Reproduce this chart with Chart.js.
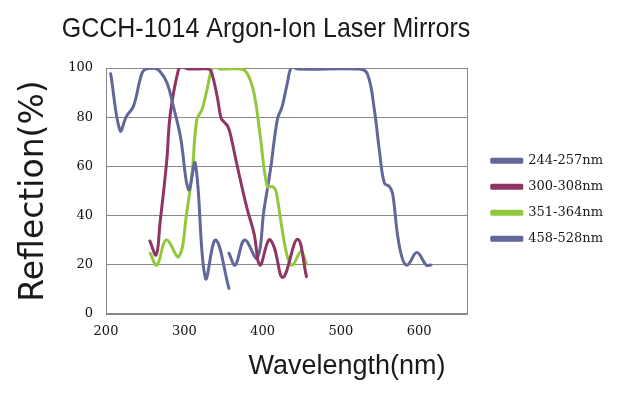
<!DOCTYPE html>
<html>
<head>
<meta charset="utf-8">
<script src="https://cdn.jsdelivr.net/npm/chart.js@4.4.0/dist/chart.umd.min.js"></script>
<style>
html,body{margin:0;padding:0;background:#ffffff;}
#wrap{width:632px;height:394px;}
</style>
</head>
<body>
<div id="wrap"><canvas id="c" width="632" height="394"></canvas></div>
<script>
// ---- data ----
const chartTitle = 'GCCH-1014 Argon-Ion Laser Mirrors';
const xTitle = 'Wavelength(nm)';
const yTitle = 'Reflection(%)';
const seriesNames = ['244-257nm', '300-308nm', '351-364nm', '458-528nm'];

const wl244 = [206, 218, 226, 235, 246, 252, 261, 269, 278, 286, 295, 305.5, 314, 327, 340, 357];
const r244  = [97.7, 74.5, 80.3, 84.4, 98, 99.7, 100, 98.6, 93.9, 84.4, 72.2, 50.5, 61.3, 14.5, 30.1, 10.4];

const wl300 = [256, 264, 269, 277.5, 282, 292.5, 297, 305, 331, 335, 342, 347, 351, 356, 360, 366, 380, 389, 396.6, 408, 414.5, 426, 444.5, 456];
const r300  = [29.7, 24, 37, 62, 81, 99.3, 100.4, 99.6, 99.6, 98, 88.4, 79.6, 78, 76, 71.5, 62.5, 43, 32.8, 19.9, 30.1, 27.4, 14.9, 30.4, 15.2];

const wl351 = [256.4, 265, 277, 293, 303, 310, 316, 322.5, 329, 336.7, 346, 372, 380, 389, 397, 406, 413, 417, 423, 431.6, 438, 449, 456];
const r351  = [24.7, 19.9, 30.1, 23.3, 41, 57.5, 79, 83, 91.2, 100.4, 99.6, 99.6, 98, 89.8, 72.2, 51.8, 51.8, 50, 38.3, 23.3, 19.9, 25.4, 20.3];

const wl458 = [357, 365, 377, 393, 401.7, 410, 418.8, 425, 431.6, 437, 444.5, 523.5, 534, 542.7, 549, 555.5, 562, 566, 572.6, 579, 585, 597, 609, 615];
const r458  = [24.7, 19.9, 30.1, 22.7, 42.3, 58.6, 79, 84.4, 93.9, 100.4, 99.6, 99.6, 97.5, 83, 66.7, 53.2, 51.8, 49, 31.5, 22, 19.9, 25, 19.9, 19.9];

const xTicks = [200, 300, 400, 500, 600];
const yTicks = [0, 20, 40, 60, 80, 100];
const xMin = 200, xMax = 662, yMin = 0, yMax = 100;

// ---- styles ----
const colors = ['#62679a', '#8e3563', '#93c83e', '#62679a'];
const tickFont = {family: "'DejaVu Serif', 'Liberation Serif', serif", size: 13};

const pts = (xs, ys) => xs.map((x, i) => ({x: x, y: ys[i]}));
const seriesData = [pts(wl244, r244), pts(wl300, r300), pts(wl351, r351), pts(wl458, r458)];

const frame = {
  id: 'frame',
  beforeDatasetsDraw(chart) {
    const {ctx, chartArea: a} = chart;
    ctx.save();
    ctx.strokeStyle = '#888888';
    ctx.lineWidth = 1;
    ctx.strokeRect(Math.round(a.left) + 0.5, Math.round(a.top) + 0.5,
                   Math.round(a.right - a.left) - 1, Math.round(a.bottom - a.top) - 1);
    ctx.restore();
  }
};

const texts = {
  id: 'texts',
  afterDraw(chart) {
    const ctx = chart.ctx;
    ctx.save();
    ctx.fillStyle = '#1a1a1a';
    ctx.textAlign = 'center';
    ctx.textBaseline = 'middle';
    ctx.font = "28px 'Liberation Sans', Arial, sans-serif";
    ctx.translate(266, 29);
    ctx.scale(0.893, 1);
    ctx.fillText(chartTitle, 0, 0);
    ctx.setTransform(1, 0, 0, 1, 0, 0);
    ctx.font = "27px 'Liberation Sans', Arial, sans-serif";
    ctx.fillText(xTitle, 347, 367);
    ctx.restore();
  }
};

new Chart(document.getElementById('c'), {
  type: 'line',
  data: {
    datasets: seriesNames.map((name, i) => ({
      label: name,
      data: seriesData[i],
      xAxisID: 'x',
      yAxisID: 'y',
      borderColor: colors[i],
      backgroundColor: colors[i],
      borderWidth: 3,
      pointRadius: 0,
      tension: 0.4,
      fill: false,
      borderCapStyle: 'round',
      borderJoinStyle: 'round'
    }))
  },
  options: {
    responsive: false,
    animation: false,
    devicePixelRatio: 1,
    layout: {padding: {top: 68, left: 0, right: 19, bottom: 0}},
    plugins: {
      title: {display: false},
      tooltip: {enabled: false},
      legend: {
        position: 'right',
        align: 'center',
        fullSize: false,
        maxWidth: 220,
        title: {display: true, text: ' ', font: {size: 12}, padding: {top: 3, bottom: 0}},
        labels: {
          boxWidth: 30,
          boxHeight: 3,
          padding: 13,
          color: '#1a1a1a',
          font: {family: "'DejaVu Serif', 'Liberation Serif', serif", size: 13}
        }
      }
    },
    scales: {
      x: {
        type: 'linear',
        position: 'bottom',
        min: xMin,
        max: xMax,
        afterBuildTicks: s => { s.ticks = xTicks.map(v => ({value: v})); },
        afterFit: s => { s.height = 80; },
        ticks: {padding: 10, color: '#111', font: tickFont, autoSkip: false, maxRotation: 0},
        grid: {display: false, drawTicks: false},
        border: {display: false}
      },
      y: {
        type: 'linear',
        position: 'left',
        min: yMin,
        max: yMax,
        afterBuildTicks: s => { s.ticks = yTicks.map(v => ({value: v})); },
        afterFit: s => { s.width = 106; },
        ticks: {padding: 13, color: '#111', font: tickFont},
        grid: {color: '#888888', lineWidth: 1, drawTicks: false},
        border: {display: false},
        title: {
          display: true,
          text: yTitle,
          color: '#1a1a1a',
          font: {family: "'DejaVu Sans', sans-serif", size: 33},
          padding: {top: 14.7, bottom: 0}
        }
      },
      gap: {
        type: 'linear',
        position: 'right',
        display: true,
        grid: {display: false, drawTicks: false},
        ticks: {display: false},
        border: {display: false},
        afterFit: s => { s.width = 11; }
      }
    }
  },
  plugins: [frame, texts]
});
</script>
</body>
</html>
